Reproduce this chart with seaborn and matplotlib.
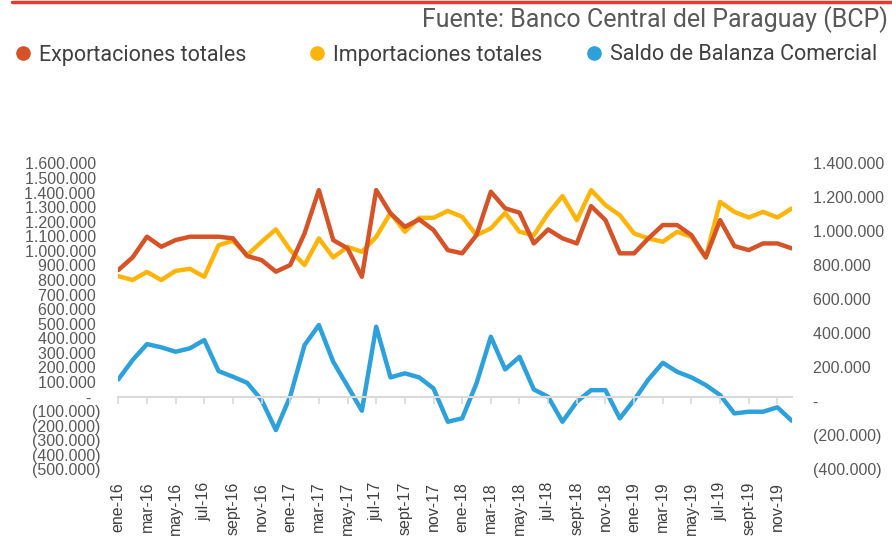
import pandas as pd
import matplotlib.pyplot as plt
import seaborn as sns
from matplotlib.lines import Line2D
from matplotlib.ticker import FuncFormatter, MultipleLocator

# --------------------------
# Data
# --------------------------
meses = ['ene', 'feb', 'mar', 'abr', 'may', 'jun', 'jul', 'ago', 'sept', 'oct', 'nov', 'dic']
anios = ['16', '17', '18', '19']
periodos = [f"{m}-{a}" for a in anios for m in meses]

exportaciones = [868, 955, 1097, 1028, 1074, 1097, 1097, 1097, 1086, 964, 937, 857,
                 903, 1120, 1417, 1074, 1017, 822, 1417, 1257, 1165, 1216, 1143, 1005,
                 983, 1108, 1406, 1292, 1262, 1051, 1147, 1086, 1051, 1307, 1211, 983,
                 983, 1086, 1177, 1177, 1108, 955, 1211, 1033, 1005, 1051, 1051, 1017]

importaciones = [737, 714, 762, 714, 768, 780, 733, 919, 945, 861, 939, 1012,
                 890, 802, 959, 847, 909, 880, 968, 1109, 998, 1080, 1080, 1121,
                 1086, 978, 1018, 1109, 998, 978, 1106, 1208, 1066, 1243, 1155, 1096,
                 988, 959, 939, 998, 968, 847, 1174, 1115, 1082, 1115, 1082, 1135]

saldo = [129, 243, 337, 318, 292, 312, 361, 178, 145, 109, 8, -169,
         30, 331, 449, 233, 90, -55, 439, 141, 165, 141, 76, -120,
         -100, 106, 380, 188, 262, 70, 27, -120, -2, 66, 66, -100,
         8, 129, 227, 174, 141, 96, 37, -71, -61, -61, -35, -114]

series = ['Exportaciones totales', 'Importaciones totales', 'Saldo de Balanza Comercial']
colores = ['#D65327', '#FFB40A', '#2DA1DC']

df = pd.DataFrame({
    'idx': range(len(periodos)),
    'periodo': periodos,
    series[0]: [v * 1000 for v in exportaciones],
    series[1]: [v * 1000 for v in importaciones],
    series[2]: [v * 1000 for v in saldo],
})

# --------------------------
# Style
# --------------------------
sns.set_style('white')
plt.rcParams['font.family'] = ['Liberation Sans', 'DejaVu Sans']

gris = '#595959'


def formato(v, pos=None):
    if abs(v) < 1:
        return '-  '
    s = f"{abs(v):,.0f}".replace(',', '.')
    return f"({s})" if v < 0 else s + ' '


fig = plt.figure(figsize=(8.92, 5.37), dpi=100)
ax = fig.add_axes([0.1326, 0.126, 0.755, 0.5696])
ax2 = ax.twinx()

# Exportaciones on the primary axis, the rest on the secondary one
sns.lineplot(data=df, x='idx', y=series[0], ax=ax, color=colores[0], linewidth=3.2)
sns.lineplot(data=df, x='idx', y=series[1], ax=ax2, color=colores[1], linewidth=3.2)
sns.lineplot(data=df, x='idx', y=series[2], ax=ax2, color=colores[2], linewidth=3.2)

ax.set_xlim(0, len(periodos) - 1)
ax.set_ylim(-500000, 1600000)
ax2.set_ylim(-400000, 1400000)
ax.yaxis.set_major_locator(MultipleLocator(100000))
ax2.yaxis.set_major_locator(MultipleLocator(200000))
ax.yaxis.set_major_formatter(FuncFormatter(formato))
ax2.yaxis.set_major_formatter(FuncFormatter(formato))

ax.set_xticks(df['idx'][::2])
ax.set_xticklabels(df['periodo'][::2], rotation=90)

for a in (ax, ax2):
    a.set_xlabel('')
    a.set_ylabel('')
    for s in a.spines.values():
        s.set_visible(False)

ax.tick_params(axis='y', length=0, pad=13, labelsize=11.5, labelcolor=gris)
ax2.tick_params(axis='y', length=0, pad=15, labelsize=11.5, labelcolor=gris)
ax.tick_params(axis='x', length=0, pad=9, labelsize=11.5, labelcolor='#404040')

# Category axis crossing at zero of the primary axis
eje = ax.secondary_xaxis(500000 / 2100000)
eje.set_xticks(df['idx'][::2])
eje.set_xticklabels([])
eje.tick_params(axis='x', direction='out', length=5, width=1.2, color='#D9D9D9')
eje.spines['bottom'].set_color('#D9D9D9')
eje.spines['bottom'].set_linewidth(1.5)
eje.set_zorder(0)
ax.set_zorder(ax2.get_zorder() + 1)
ax.patch.set_visible(False)

# --------------------------
# Header: red rule, source and legend
# --------------------------
fig.add_artist(Line2D([0.014, 1.0], [0.997, 0.997], transform=fig.transFigure,
                      color='#E53A2C', linewidth=2.5))
fig.text(888 / 892, 1 - 20 / 537, 'Fuente: Banco Central del Paraguay (BCP)',
         ha='right', va='center', fontsize=18, color=gris, family=['Roboto', 'DejaVu Sans'])

# one legend entry per series, placed like the original header
leyenda_x = [14, 308, 585]
for nombre, color, x in zip(series, colores, leyenda_x):
    h = Line2D([], [], marker='o', linestyle='', markersize=9.5, color=color)
    fig.legend([h], [nombre], loc='center left', bbox_to_anchor=(x / 892, 1 - 55 / 537),
               frameon=False, handlelength=0.8, handletextpad=0.35,
               prop={'family': ['Roboto', 'DejaVu Sans'], 'size': 15.5},
               labelcolor='#404040', borderaxespad=0, borderpad=0)

plt.savefig('out.png', dpi=100)
plt.close()
